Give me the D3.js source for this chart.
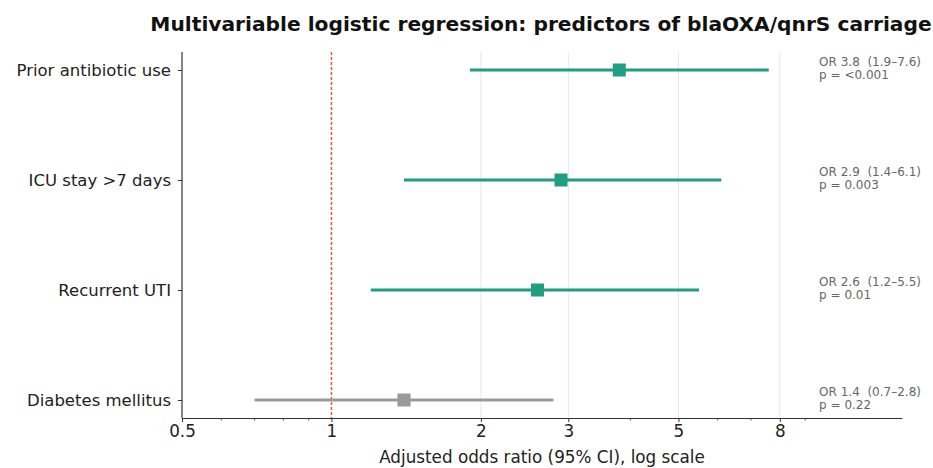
<!DOCTYPE html>
<html><head><meta charset="utf-8">
<script src="https://cdn.jsdelivr.net/npm/d3@7"></script>
<style>body{margin:0;background:#fff}svg{display:block}text{font-family:"DejaVu Sans",sans-serif}</style>
</head><body><svg id="c" width="933" height="468"></svg>
<script>
const predictors = ["Prior antibiotic use","ICU stay >7 days","Recurrent UTI","Diabetes mellitus"];
const oddsRatio = [3.8, 2.9, 2.6, 1.4];
const ciLow = [1.9, 1.4, 1.2, 0.7];
const ciHigh = [7.6, 6.1, 5.5, 2.8];
const pLabels = ["<0.001","0.003","0.01","0.22"];
const significant = [true, true, true, false];
const xTicks = [0.5, 1, 2, 3, 5, 8];
const xMinorTicks = [0.6, 0.7, 0.8, 0.9, 4, 6, 7, 9];
const annotX = 9.6;

const svg = d3.select("#c");
const L = 182, R = 902, T = 52, B = 418;
const x = d3.scaleLog().domain([0.5, 14.1]).range([L, R]);
const y = d3.scalePoint().domain(predictors).range([70, 400]);
const teal = "#1f9e82", grey = "#999999";

// grid
svg.append("g").selectAll("line").data(xTicks.filter(d => d > 1)).join("line")
  .attr("x1", d => x(d)).attr("x2", d => x(d)).attr("y1", T).attr("y2", B)
  .attr("stroke", "#e4e4e4").attr("stroke-width", 0.9);

// reference line
svg.append("line").attr("x1", x(1)).attr("x2", x(1)).attr("y1", T).attr("y2", B)
  .attr("stroke", "#dd5a48").attr("stroke-width", 1.5).attr("stroke-dasharray", "3,2");

// CI lines
const rows = predictors.map((p, i) => ({p, or: oddsRatio[i], lo: ciLow[i], hi: ciHigh[i], pv: pLabels[i], sig: significant[i]}));
svg.append("g").selectAll("line").data(rows).join("line")
  .attr("x1", d => x(d.lo)).attr("x2", d => x(d.hi))
  .attr("y1", d => y(d.p)).attr("y2", d => y(d.p))
  .attr("stroke", d => d.sig ? teal : grey).attr("stroke-width", 3);
const s = 13;
svg.append("g").selectAll("rect").data(rows).join("rect")
  .attr("x", d => x(d.or) - s/2).attr("y", d => y(d.p) - s/2)
  .attr("width", s).attr("height", s)
  .attr("fill", d => d.sig ? teal : grey);

// annotations
const ann = svg.append("g").selectAll("text").data(rows).join("text")
  .attr("x", x(annotX)).attr("y", d => y(d.p) - 4)
  .attr("font-size", 12).attr("fill", "#666");
ann.append("tspan").attr("xml:space", "preserve").style("white-space", "pre")
  .text(d => `OR ${d.or.toFixed(1)}  (${d.lo.toFixed(1)}–${d.hi.toFixed(1)})`);
ann.append("tspan").attr("x", x(annotX)).attr("dy", 13).text(d => `p = ${d.pv}`);

// axes
const xAxis = d3.axisBottom(x).tickValues(xTicks).tickFormat(d3.format("")).tickSize(4).tickSizeOuter(0).tickPadding(3);
const gx = svg.append("g").attr("transform", `translate(0,${B})`).call(xAxis);
gx.selectAll("text").attr("font-size", 16.8).attr("fill", "#222");
gx.select(".domain").attr("stroke", "#333").attr("stroke-width", 1.2);
gx.selectAll(".tick line").attr("stroke", "#333");
svg.append("g").attr("transform", `translate(0,${B})`).selectAll("line").data(xMinorTicks).join("line")
  .attr("x1", d => x(d)).attr("x2", d => x(d)).attr("y1", 0).attr("y2", 2.5)
  .attr("stroke", "#333").attr("stroke-width", 0.8);

const yAxis = d3.axisLeft(y).tickSize(4).tickSizeOuter(0).tickPadding(7);
const gy = svg.append("g").attr("transform", `translate(${L},0)`).call(yAxis);
gy.select(".domain").attr("d", `M0,${T}V${B}`).attr("stroke", "#333").attr("stroke-width", 1.2);
gy.selectAll("text").attr("font-size", 16.5).attr("fill", "#222");
gy.selectAll(".tick line").attr("stroke", "#333");

svg.append("text").attr("x", (L + R) / 2).attr("y", 463).attr("text-anchor", "middle")
  .attr("font-size", 16.8).attr("fill", "#222").text("Adjusted odds ratio (95% CI), log scale");
svg.append("text").attr("x", (L + R) / 2 - 1).attr("y", 31).attr("text-anchor", "middle")
  .attr("font-size", 20.2).attr("font-weight", "bold").attr("fill", "#111")
  .text("Multivariable logistic regression: predictors of blaOXA/qnrS carriage");
</script></body></html>
